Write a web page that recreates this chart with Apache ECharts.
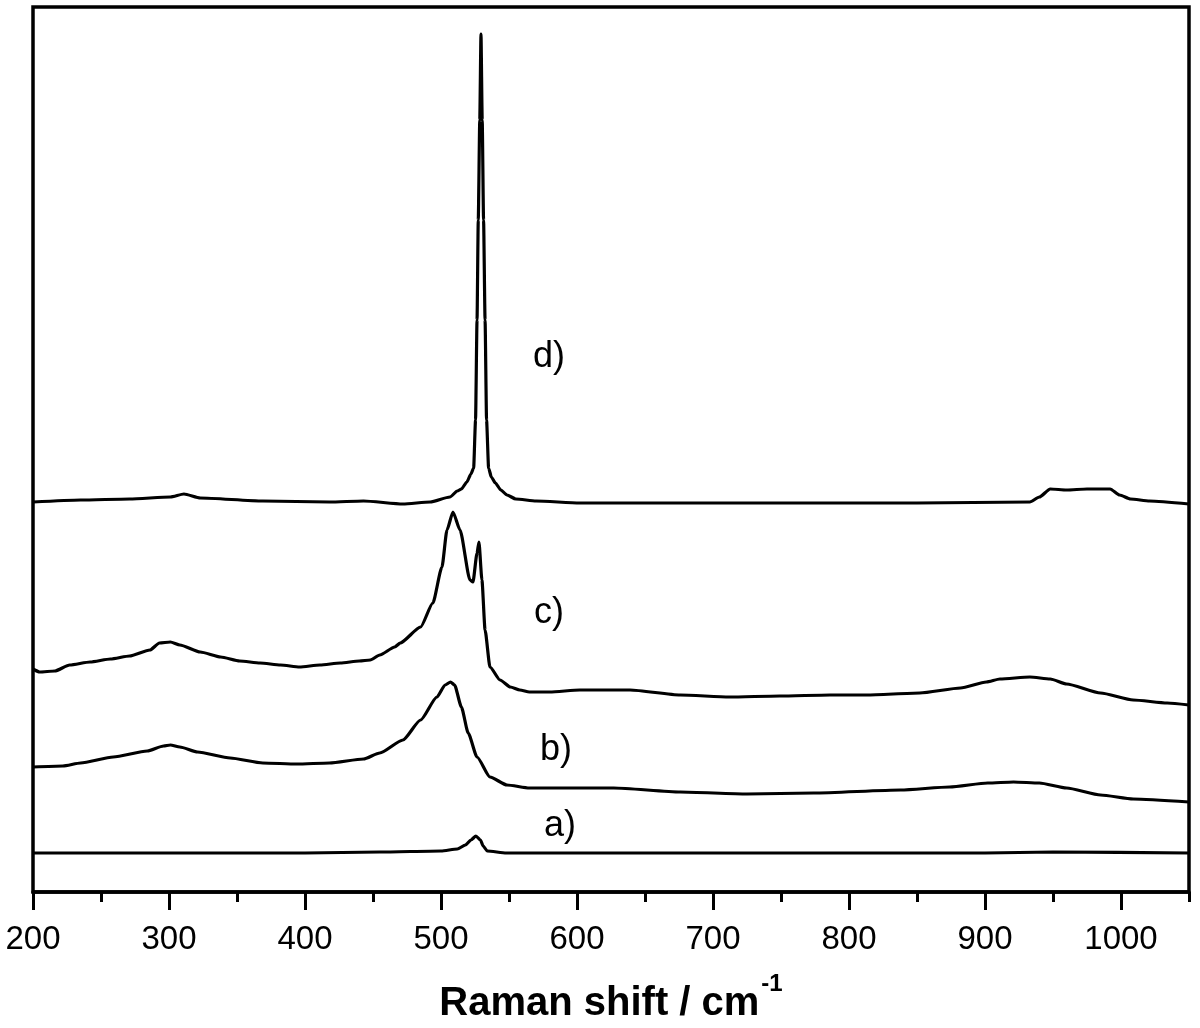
<!DOCTYPE html>
<html>
<head>
<meta charset="utf-8">
<script src="https://cdn.jsdelivr.net/npm/echarts@6/dist/echarts.min.js"></script>
<style>html,body{margin:0;padding:0;background:#fff;}#chart{width:1200px;height:1028px;}</style>
</head>
<body>
<div id="chart"></div>
<script>
// Raman shift (cm-1) vs intensity (arbitrary units, curves offset)
const specA = [[200,39],[300,39],[400,39],[455,40],[500,41],[512,43],[518,47],[522,52],[525.7,56],[529,52],[531,46],[534,41],[548,39],[600,39],[700,39],[800,39],[900,39],[950,40],[1050,39]];

const specB = [[200,125],[222,126],[235,129],[259,135],[284,141],[296,146],[301,147],[308,145],[321,140],[345,134],[369,129],[394,128],[418,129],[443,133],[455,139],[472,152],[485,172],[497,195],[503,207],[507,210],[510,207],[515,185],[520,159],[526.5,135],[536,115],[548.5,107],[565,104],[600,104],[627,104],[676,100],[725,98],[774,99],[838,102],[874,105],[902,109],[921,110],[940,109],[960,104],[985,97],[1009,93],[1050,90]];

const specC = [[200,223],[205,220],[216,221],[227,227],[242,230],[257,233],[271,236],[286,242],[293,249],[301,250],[308,247],[323,240],[338,235],[352,231],[367,229],[382,227],[396,225],[411,227],[426,229],[440,231],[448,232],[455,237],[466,245],[470,249],[485,265],[494,289],[500.7,325],[504.4,362],[508.8,380],[514,362],[521.3,312],[523.5,310],[526.5,339],[527.9,350],[530.1,312],[532.4,262],[536,225],[543.4,212],[551,205],[558,202],[565,200],[580,200],[602,202],[639,202],[676,197],[712,195],[749,196],[786,197],[813,197],[852,199],[882,204],[901,210],[911,213],[933,215],[948,213],[960,208],[985,199],[1009,192],[1034,189],[1050,187]];

const specD = [[200,390],[235,392],[271,393],[301,395],[311,398],[323,394],[369,391],[418,390],[443,391],[472,388],[492,390],[506.6,395],[512,401],[515,403],[519,410],[522,418],[524,424],[525.4,472],[526.5,572],[527.4,672],[528.5,772],[529.4,858],[530.3,772],[531.3,672],[532.4,572],[533.5,472],[535,424],[537,415],[540,409],[544,402],[548.5,397],[555,393],[570,391],[602,389],[700,389],[764,389],[850,389],[933,390],[940,395],[948,403],[960,402],[975,403],[992,403],[999,397],[1007,393],[1021,391],[1050,388]];

const seriesNames = ['a)','b)','c)','d)'];
const labelPos = [[587.5,66],[584.6,142],[579.4,279],[579.4,535]];

const majorTicks = [200,300,400,500,600,700,800,900,1000];
const minorTicks = [250,350,450,550,650,750,850,950,1050];

const FONT = '"Liberation Sans", Arial, Helvetica, sans-serif';
const specs = [specA, specB, specC, specD];

const chart = echarts.init(document.getElementById('chart'), null, {renderer:'canvas'});
const option = {
  animation: false,
  backgroundColor: '#fff',
  grid: {left: 33, right: 11, top: 7, bottom: 136, show: true, borderColor: '#000', borderWidth: 3.5,
    containLabel: false, outerBoundsMode: 'none'},
  xAxis: [{
    type: 'value', min: 200, max: 1050, interval: 100, position: 'bottom',
    axisLine: {show: true, lineStyle: {color: '#000', width: 3.5}},
    axisTick: {show: true, inside: false, length: 18, customValues: majorTicks, lineStyle: {color: '#000', width: 3}},
    axisLabel: {show: true, customValues: majorTicks, margin: 31, fontSize: 33, color: '#000', fontFamily: FONT,
      formatter: v => String(v)},
    splitLine: {show: false},
    name: '{t|Raman shift / cm}{s|-1}',
    nameLocation: 'middle', nameGap: 80,
    nameTextStyle: {
      rich: {
        t: {fontSize: 40, fontWeight: 'bold', fontFamily: FONT, color: '#000', lineHeight: 52, verticalAlign: 'bottom'},
        s: {fontSize: 24, fontWeight: 'bold', fontFamily: FONT, color: '#000', lineHeight: 24, verticalAlign: 'top', padding: [0,0,0,2]}
      }
    }
  }, {
    type: 'value', min: 200, max: 1050, interval: 50, position: 'bottom',
    axisLine: {show: false},
    axisTick: {show: true, inside: false, length: 10, customValues: minorTicks, lineStyle: {color: '#000', width: 3}},
    axisLabel: {show: false},
    splitLine: {show: false}
  }],
  yAxis: {
    type: 'value', min: 0, max: 885,
    axisLine: {show: false}, axisTick: {show: false}, axisLabel: {show: false}, splitLine: {show: false}
  },
  series: specs.map((d, i) => ({
    type: 'line', name: seriesNames[i], data: d, xAxisIndex: 0,
    showSymbol: false, symbol: 'none', smooth: 0.2, smoothMonotone: 'x',
    lineStyle: {color: '#000', width: 3.2},
    markPoint: {
      symbol: 'circle', symbolSize: 1, itemStyle: {color: 'rgba(0,0,0,0)'},
      label: {show: true, position: 'inside', formatter: seriesNames[i], fontSize: 36, color: '#000', fontFamily: FONT},
      data: [{coord: labelPos[i]}]
    }
  }))
};
chart.setOption(option);
</script>
</body>
</html>
